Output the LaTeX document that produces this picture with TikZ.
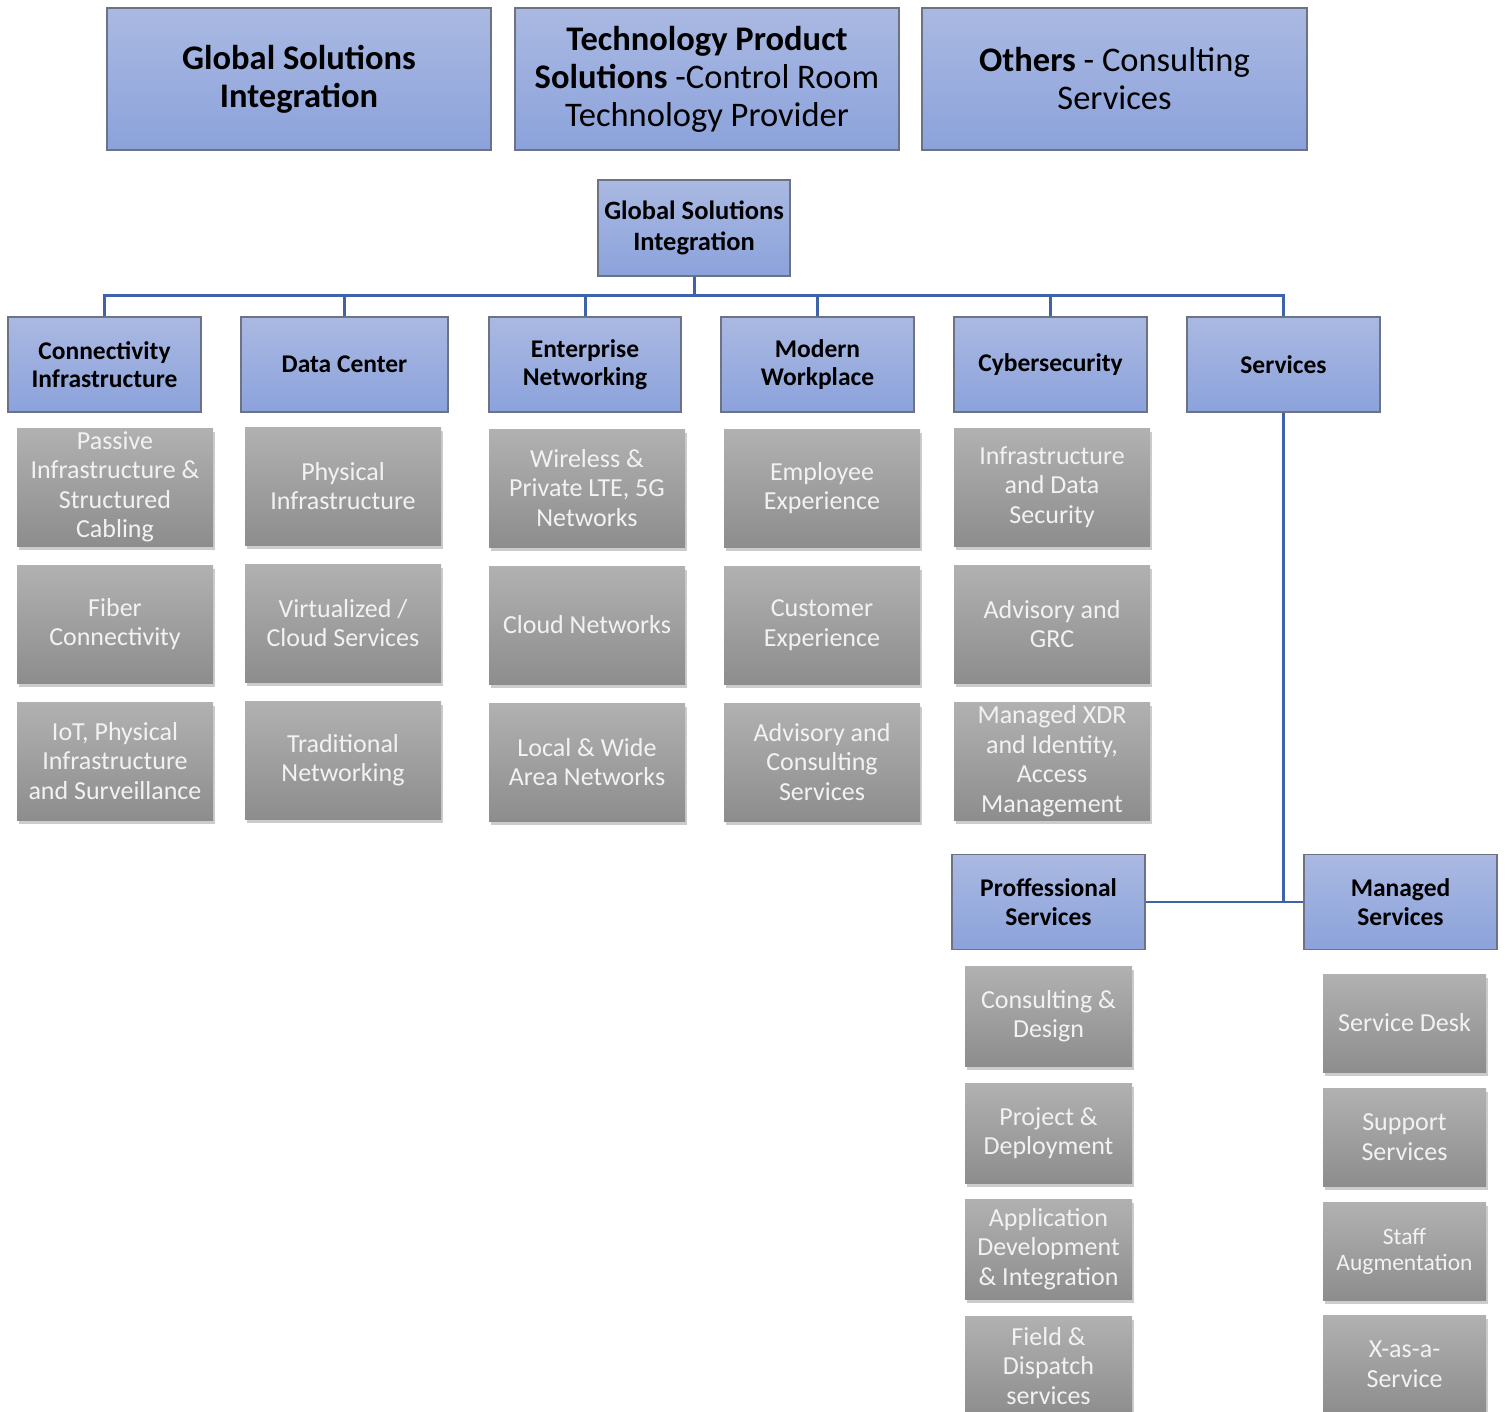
\documentclass[tikz,border=0pt]{standalone}
\usepackage{fontspec}
\setmainfont{Carlito}
\usetikzlibrary{shadows}
\definecolor{bluetop}{HTML}{AAB9E2}
\definecolor{bluebot}{HTML}{8BA2DB}
\definecolor{greytop}{HTML}{B1B1B1}
\definecolor{greybot}{HTML}{8D8D8D}
\definecolor{connc}{HTML}{3F63AA}
\definecolor{boxline}{HTML}{6B7385}
\tikzset{
  bluebox/.style={rectangle, top color=bluetop, bottom color=bluebot, draw=boxline, line width=1.2pt, align=center, inner sep=2pt, text=black},
  topbox/.style={bluebox, minimum width=384pt, minimum height=142pt, font=\fontsize{34.5}{38}\selectfont},
  ctrbox/.style={bluebox, minimum width=192pt, minimum height=96pt, font=\fontsize{26.5}{31}\selectfont\bfseries},
  hdrbox/.style={bluebox, minimum width=193pt, minimum height=95pt, font=\fontsize{25.5}{28.5}\selectfont\bfseries},
  greybox/.style={rectangle, top color=greytop, bottom color=greybot, align=center, inner sep=2pt, text=white!95!black,
    minimum width=196pt, minimum height=118pt, font=\fontsize{26}{29.5}\selectfont,
    drop shadow={opacity=0.4, shadow xshift=2pt, shadow yshift=-4pt}},
  conn/.style={draw=connc, line width=3pt},
}
\begin{document}
\begin{tikzpicture}[x=1pt,y=-1pt]
\useasboundingbox (0,0) rectangle (1506,1412);
\clip (0,0) rectangle (1506,1412);
% top row
\node[topbox] (T1) at (299,79) {\bfseries Global Solutions\\\bfseries Integration};
\node[topbox] (T2) at (707,79) {\bfseries Technology Product\\\textbf{Solutions} -Control Room\\Technology Provider};
\node[topbox, minimum width=385pt] (T3) at (1114.5,79) {\textbf{Others} - Consulting\\Services};
% center
\node[ctrbox] (C) at (694,228) {Global Solutions\\Integration};
% headers
\node[hdrbox] (H1) at (104.5,364.5) {Connectivity\\Infrastructure};
\node[hdrbox, minimum width=207pt] (H2) at (344.5,364.5) {Data Center};
\node[hdrbox, minimum width=192pt] (H3) at (585,364.5) {Enterprise\\Networking};
\node[hdrbox] (H4) at (817.5,364.5) {Modern\\Workplace};
\node[hdrbox] (H5) at (1050.5,364.5) {Cybersecurity};
\node[hdrbox] (H6) at (1283.5,364.5) {Services};
% connectors
\coordinate (bus) at (694,296);
\draw[conn] (C.south) -- (bus);
\draw[conn] (H1.north) -- (H1.north |- bus) -- (H6.north |- bus) -- (H6.north);
\draw[conn] (H2.north) -- (H2.north |- bus);
\draw[conn] (H3.north) -- (H3.north |- bus);
\draw[conn] (H4.north) -- (H4.north |- bus);
\draw[conn] (H5.north) -- (H5.north |- bus);
% column 1
\node[greybox] (G11) at (115,487) {Passive\\Infrastructure \&\\Structured\\Cabling};
\node[greybox] (G12) at (115,624) {Fiber\\Connectivity};
\node[greybox] (G13) at (115,761) {IoT, Physical\\Infrastructure\\and Surveillance};
% column 2
\node[greybox] (G21) at (343,486) {Physical\\Infrastructure};
\node[greybox] (G22) at (343,623) {Virtualized /\\Cloud Services};
\node[greybox] (G23) at (343,760) {Traditional\\Networking};
% column 3
\node[greybox] (G31) at (587,488) {Wireless \&\\Private LTE, 5G\\Networks};
\node[greybox] (G32) at (587,625) {Cloud Networks};
\node[greybox] (G33) at (587,762) {Local \& Wide\\Area Networks};
% column 4
\node[greybox] (G41) at (822,488) {Employee\\Experience};
\node[greybox] (G42) at (822,625) {Customer\\Experience};
\node[greybox] (G43) at (822,762) {Advisory and\\Consulting\\Services};
% column 5
\node[greybox] (G51) at (1052,487) {Infrastructure\\and Data\\Security};
\node[greybox] (G52) at (1052,624) {Advisory and\\GRC};
\node[greybox] (G53) at (1052,761) {Managed XDR\\and Identity,\\Access\\Management};
% services branch
\node[hdrbox] (P) at (1048.5,902) {Proffessional\\Services};
\node[hdrbox] (M) at (1400.5,902) {Managed\\Services};
\draw[conn] (H6.south) -- (H6.south |- P.east);
\draw[conn, line width=2.2pt] (P.east) -- (M.west);
% professional
\node[greybox, minimum width=167pt, minimum height=100pt] (P1) at (1048.5,1016) {Consulting \&\\Design};
\node[greybox, minimum width=167pt, minimum height=100pt] (P2) at (1048.5,1133) {Project \&\\Deployment};
\node[greybox, minimum width=167pt, minimum height=100pt] (P3) at (1048.5,1249) {Application\\Development\\\& Integration};
\node[greybox, minimum width=167pt, minimum height=100pt] (P4) at (1048.5,1366) {Field \&\\Dispatch\\services};
% managed
\node[greybox, minimum width=163pt, minimum height=98pt] (M1) at (1404.5,1023) {Service Desk};
\node[greybox, minimum width=163pt, minimum height=98pt] (M2) at (1404.5,1137) {Support\\Services};
\node[greybox, minimum width=163pt, minimum height=98pt, font=\fontsize{23.5}{26}\selectfont] (M3) at (1404.5,1251) {Staff\\Augmentation};
\node[greybox, minimum width=163pt, minimum height=98pt] (M4) at (1404.5,1364) {X-as-a-\\Service};
\end{tikzpicture}
\end{document}
